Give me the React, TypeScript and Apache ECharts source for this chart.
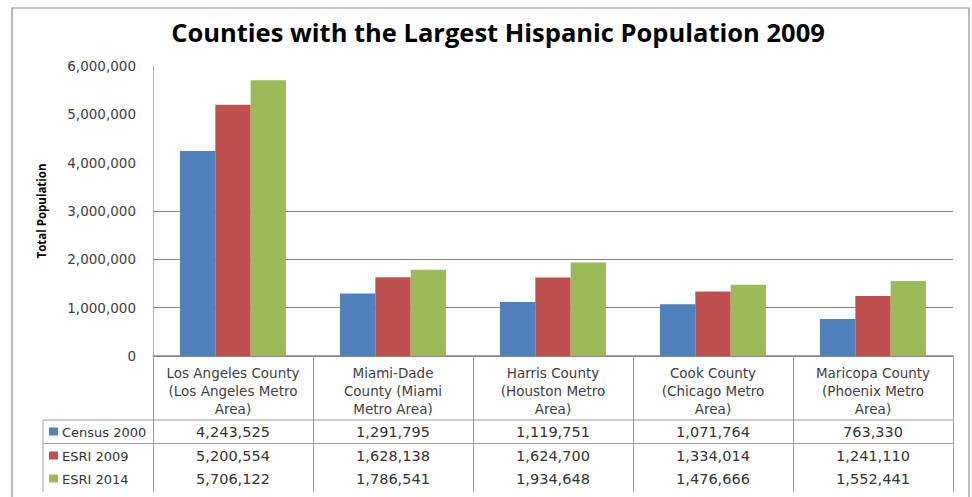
import React, { useEffect, useRef } from "react";
import * as echarts from "echarts";

const categories = [
  "Los Angeles County\n(Los Angeles Metro\nArea)",
  "Miami-Dade\nCounty (Miami\nMetro Area)",
  "Harris County\n(Houston Metro\nArea)",
  "Cook County\n(Chicago Metro\nArea)",
  "Maricopa County\n(Phoenix Metro\nArea)",
];
const seriesNames = ["Census 2000", "ESRI 2009", "ESRI 2014"];
const census2000 = [4243525, 1291795, 1119751, 1071764, 763330];
const esri2009 = [5200554, 1628138, 1624700, 1334014, 1241110];
const esri2014 = [5706122, 1786541, 1934648, 1476666, 1552441];
const seriesColors = ["#4F81BD", "#C0504D", "#9BBB59"];
const yMin = 0;
const yMax = 6000000;
const yInterval = 1000000;
const titleText = "Counties with the Largest Hispanic Population 2009";
const yAxisName = "Total Population";

const fmt = (n: number) => n.toLocaleString("en-US");

export default function App() {
  const ref = useRef<HTMLDivElement>(null);
  useEffect(() => {
    if (!ref.current) return;
    const chart = echarts.init(ref.current, null, { renderer: "svg" });
    const seriesData = [census2000, esri2009, esri2014];
    const GRID_L = 153, GRID_T = 66, GRID_W = 800, GRID_H = 290;
    const option: any = {
      animation: false,
      backgroundColor: "#ffffff",
      title: {
        text: titleText,
        left: 493,
        textAlign: "center",
        top: 14,
        textStyle: { fontFamily: "Open Sans", fontWeight: "bold", fontSize: 25.5, color: "#000" },
      },
      grid: { left: GRID_L, top: GRID_T, width: GRID_W, height: GRID_H, containLabel: false },
      xAxis: {
        type: "category",
        data: categories,
        axisLine: { lineStyle: { color: "#868686", width: 1.5 } },
        axisTick: { show: true, interval: 0, length: 136, lineStyle: { color: "#a0a0a0" } },
        axisLabel: {
          interval: 0,
          margin: 8,
          fontFamily: "DejaVu Sans",
          fontSize: 13.5,
          lineHeight: 18,
          color: "#404040",
        },
      },
      yAxis: {
        type: "value",
        min: yMin,
        max: yMax,
        interval: yInterval,
        name: yAxisName,
        nameLocation: "middle",
        nameRotate: 90,
        nameGap: 106,
        nameTextStyle: { fontFamily: "Open Sans", fontWeight: "bold", fontSize: 11.5, color: "#000" },
        axisLine: { show: true, lineStyle: { color: "#b0b0b0" } },
        axisTick: { show: false },
        axisLabel: {
          margin: 17,
          fontFamily: "DejaVu Sans",
          fontSize: 13.5,
          color: "#404040",
          formatter: (v: number) => fmt(v),
        },
        splitLine: {
          show: true,
          lineStyle: {
            color: ["#868686", "#868686", "#868686", "#868686", "rgba(0,0,0,0)", "rgba(0,0,0,0)", "rgba(0,0,0,0)"],
            width: 1.2,
          },
        },
      },
      series: seriesNames.map((name, i) => ({
        name,
        type: "bar",
        data: seriesData[i],
        barGap: "0%",
        barCategoryGap: "33.75%",
        itemStyle: { color: seriesColors[i] },
      })),
    };
    chart.setOption(option);

    const centers = categories.map((_, i) => chart.convertToPixel({ xAxisIndex: 0 }, i) as number);
    const rowY = [432, 456, 479];
    const tableLeft = 43;
    const tableRight = GRID_L + GRID_W;
    const graphics: any[] = [
      {
        type: "rect",
        shape: { x: 12, y: 8, width: 957, height: 520 },
        style: { fill: "none", stroke: "#8c8c8c", lineWidth: 1.2 },
        silent: true,
      },
      { type: "line", shape: { x1: tableLeft, y1: 420, x2: tableRight, y2: 420 }, style: { stroke: "#a0a0a0", lineWidth: 1 } },
      { type: "line", shape: { x1: tableLeft, y1: 443.5, x2: tableRight, y2: 443.5 }, style: { stroke: "#a0a0a0", lineWidth: 1 } },
      { type: "line", shape: { x1: tableLeft, y1: 420, x2: tableLeft, y2: 492 }, style: { stroke: "#a0a0a0", lineWidth: 1 } },
    ];
    seriesNames.forEach((name, r) => {
      graphics.push({
        type: "rect",
        shape: { x: 49, y: rowY[r] - 4.5, width: 9, height: 8 },
        style: { fill: seriesColors[r] },
      });
      graphics.push({
        type: "text",
        x: 62,
        y: rowY[r],
        style: {
          text: name,
          fontFamily: "DejaVu Sans",
          fontSize: 13,
          fill: "#333333",
          textAlign: "left",
          textVerticalAlign: "middle",
        },
      });
      seriesData[r].forEach((v, c) => {
        graphics.push({
          type: "text",
          x: centers[c],
          y: rowY[r],
          style: {
            text: fmt(v),
            fontFamily: "DejaVu Sans",
            fontSize: 14.5,
            fill: "#333333",
            textAlign: "center",
            textVerticalAlign: "middle",
          },
        });
      });
    });
    chart.setOption({ graphic: graphics });
    return () => chart.dispose();
  }, []);
  return (
    <div
      ref={ref}
      style={{ position: "fixed", left: 0, top: 0, width: 972, height: 497, background: "#fff" }}
    />
  );
}
